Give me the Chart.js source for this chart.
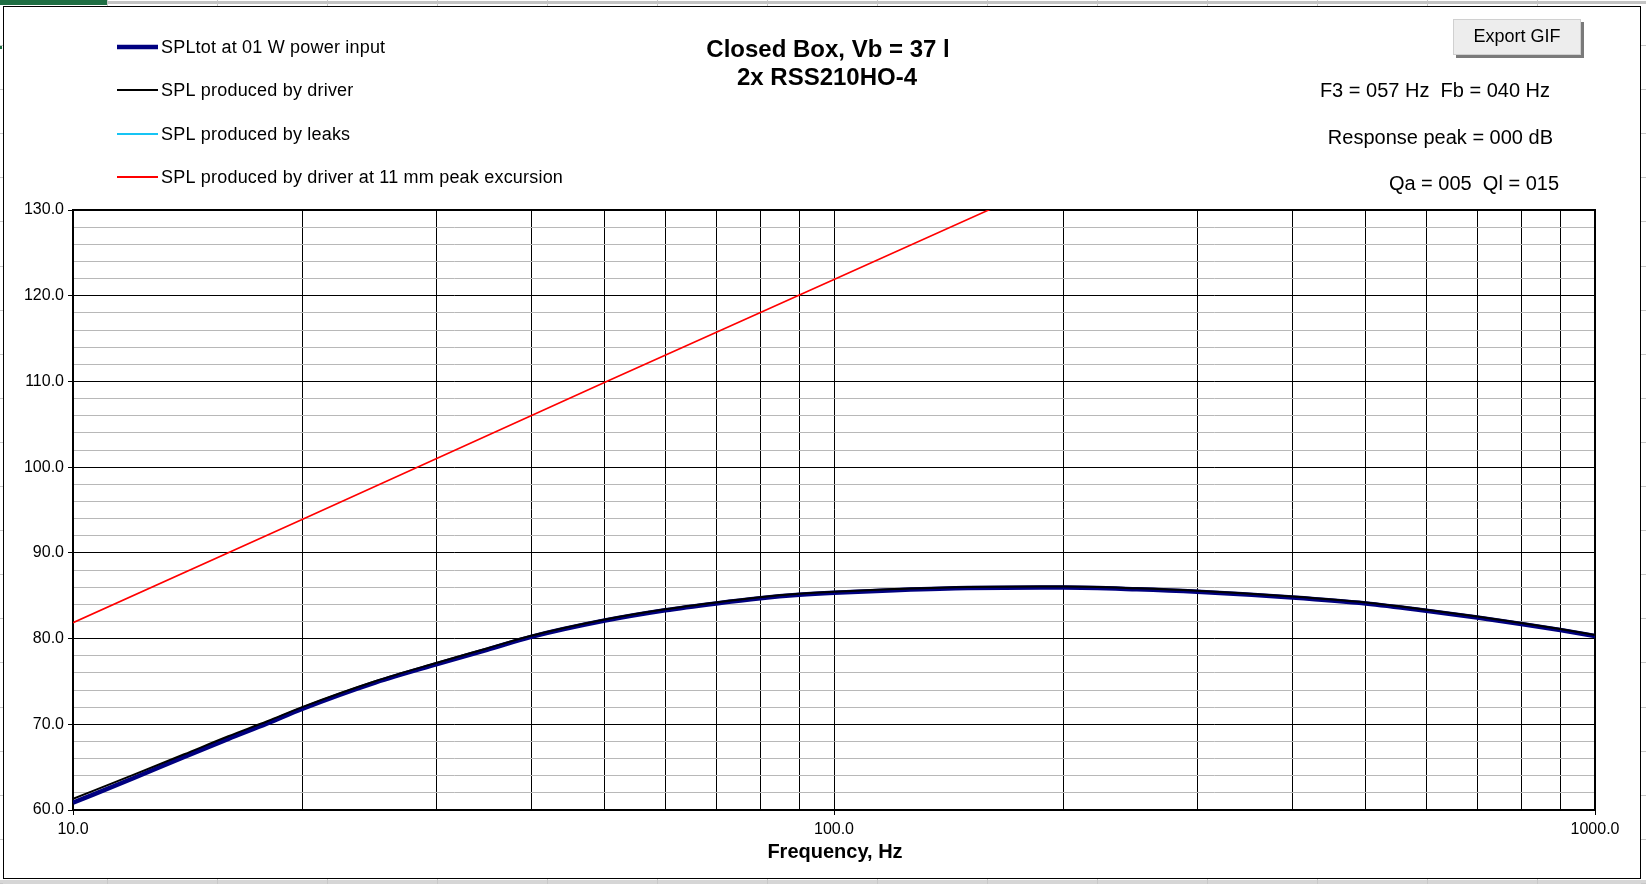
<!DOCTYPE html>
<html>
<head>
<meta charset="utf-8">
<title>Closed Box, Vb = 37 l</title>
<script src="https://cdn.jsdelivr.net/npm/chart.js@4.4.1/dist/chart.umd.min.js"></script>
<style>
  html, body { margin: 0; padding: 0; background: #fff; overflow: hidden; }
  #wrap { width: 1646px; height: 884px; }
</style>
</head>
<body>
<div id="wrap"><canvas id="splChart" width="1646" height="884"></canvas></div>
<script>
// frequency points of the response curves (Hz)
const frequencies = [10, 12, 14, 16, 18, 20, 25, 30, 35, 40, 50, 60, 70, 80, 90, 100, 120, 150, 200, 250, 300, 400, 500, 600, 700, 800, 900, 1000];

// SPL values (dB)
const splTotal = [60.85, 63.7, 66.2, 68.3, 70.1, 71.8, 74.9, 77.0, 78.7, 80.2, 82.1, 83.3, 84.1, 84.7, 85.1, 85.35, 85.65, 85.9, 85.95, 85.75, 85.47, 84.8, 84.1, 83.25, 82.45, 81.7, 81.0, 80.3];
const splDriver = [61.3, 64.1, 66.5, 68.6, 70.35, 72.0, 75.05, 77.15, 78.85, 80.32, 82.22, 83.42, 84.22, 84.82, 85.22, 85.47, 85.77, 86.02, 86.07, 85.87, 85.59, 84.92, 84.22, 83.37, 82.57, 81.82, 81.12, 80.42];
const splLeaks = []; // stays below 60 dB, nothing visible in the plot

// max SPL at 11 mm excursion (straight line, clipped at 130 dB)
const excursionFreqs = [10, 20, 50, 100, 200];
const splExcursion = [81.85, 93.9, 109.9, 121.9, 133.9];

const seriesLabels = [
  "SPLtot at 01 W power input",
  "SPL produced by driver",
  "SPL produced by leaks",
  "SPL produced by driver at 11 mm peak excursion",
];

// axis ticks
const freqTicks = [10, 20, 30, 40, 50, 60, 70, 80, 90, 100, 200, 300, 400, 500, 600, 700, 800, 900, 1000];
const freqLabelTicks = [10, 100, 1000];
const dbTicks = [60, 62, 64, 66, 68, 70, 72, 74, 76, 78, 80, 82, 84, 86, 88, 90, 92, 94, 96, 98, 100, 102, 104, 106, 108, 110, 112, 114, 116, 118, 120, 122, 124, 126, 128, 130];

const infoLines = ["F3 = 057 Hz  Fb = 040 Hz", "Response peak = 000 dB", "Qa = 005  Ql = 015"];

const FONT = '"Liberation Sans", Arial, sans-serif';

function toPoints(xs, ys) {
  return ys.map((y, i) => ({ x: xs[i], y: y }));
}

// spreadsheet behind the chart object, white chart box
const sheetPlugin = {
  id: "sheet",
  beforeDraw(chart) {
    const ctx = chart.ctx;
    const W = chart.width, H = chart.height;
    ctx.save();
    ctx.fillStyle = "#fff";
    ctx.fillRect(0, 0, W, H);
    // cell grid peeking out around the chart
    ctx.fillStyle = "#c4c4c4";
    ctx.fillRect(0, 1, W, 3);
    ctx.fillStyle = "#d6d6d6";
    ctx.fillRect(0, 880, W, 4);
    ctx.strokeStyle = "#c8c8c8";
    ctx.lineWidth = 1;
    for (let x = 107; x < W; x += 110) {
      ctx.beginPath();
      ctx.moveTo(x + 0.5, 0); ctx.lineTo(x + 0.5, 6);
      ctx.moveTo(x + 0.5, 879); ctx.lineTo(x + 0.5, H);
      ctx.stroke();
    }
    for (let y = 45; y < H; y += 44.1) {
      const yy = Math.round(y) + 0.5;
      ctx.beginPath();
      ctx.moveTo(0, yy); ctx.lineTo(3, yy);
      ctx.moveTo(1641, yy); ctx.lineTo(W, yy);
      ctx.stroke();
    }
    ctx.fillStyle = "#1f6e43";
    ctx.fillRect(0, 0, 107, 5);
    ctx.fillRect(0, 46, 2, 3);
    // chart box
    ctx.fillStyle = "#fff";
    ctx.fillRect(3, 6, 1638, 873);
    ctx.strokeStyle = "#000";
    ctx.strokeRect(3.5, 6.5, 1637, 872);
    ctx.restore();
  },
  beforeDatasetsDraw(chart) {
    const { ctx, chartArea: a } = chart;
    ctx.save();
    ctx.strokeStyle = "#000";
    ctx.lineWidth = 2;
    ctx.strokeRect(a.left, a.top, a.right - a.left, a.bottom - a.top);
    ctx.restore();
  },
  afterDraw(chart) {
    const { ctx } = chart;
    ctx.save();
    ctx.fillStyle = "#000";
    ctx.textBaseline = "middle";

    // title
    ctx.textAlign = "center";
    ctx.font = "bold 24px " + FONT;
    ctx.fillText("Closed Box, Vb = 37 l", 828, 50);
    ctx.fillText("2x RSS210HO-4", 827, 78);

    // x axis title
    ctx.font = "bold 20px " + FONT;
    ctx.fillText("Frequency, Hz", 835, 852);

    // info texts, right side
    ctx.font = "20px " + FONT;
    ctx.textAlign = "right";
    ctx.fillText(infoLines[0], 1550, 91);
    ctx.fillText(infoLines[1], 1553, 138);
    ctx.fillText(infoLines[2], 1559, 184);

    // legend
    const rows = [47, 90, 134, 177];
    ctx.textAlign = "left";
    ctx.font = "18px " + FONT;
    chart.data.datasets.forEach((ds, i) => {
      ctx.strokeStyle = ds.borderColor;
      ctx.lineWidth = i === 0 ? 4.5 : 2;
      ctx.beginPath();
      ctx.moveTo(117, rows[i]);
      ctx.lineTo(158, rows[i]);
      ctx.stroke();
      ctx.fillStyle = "#000";
      ctx.letterSpacing = "0.2px";
      ctx.fillText(ds.label, 161, rows[i] + 1);
      ctx.letterSpacing = "0px";
    });

    // Export GIF button
    ctx.fillStyle = "#7a7a7a";
    ctx.fillRect(1456, 22, 128, 36);
    ctx.fillStyle = "#ededed";
    ctx.fillRect(1453, 19, 128, 36);
    ctx.strokeStyle = "#d0d0d0";
    ctx.lineWidth = 1;
    ctx.strokeRect(1453.5, 19.5, 127, 35);
    ctx.fillStyle = "#000";
    ctx.textAlign = "center";
    ctx.font = "18px " + FONT;
    ctx.fillText("Export GIF", 1517, 37);
    ctx.restore();
  },
};

const isMajorDb = (v) => v % 10 === 0;
const isLabelFreq = (v) => freqLabelTicks.includes(v);

const ctx = document.getElementById("splChart").getContext("2d");
const splChart = new Chart(ctx, {
  type: "line",
  data: {
    datasets: [
      {
        label: seriesLabels[0],
        data: toPoints(frequencies, splTotal),
        borderColor: "#000080",
        borderWidth: 4.5,
        order: 4,
      },
      {
        label: seriesLabels[1],
        data: toPoints(frequencies, splDriver),
        borderColor: "#000000",
        borderWidth: 2,
        order: 2,
      },
      {
        label: seriesLabels[2],
        data: splLeaks,
        borderColor: "#16c4f4",
        borderWidth: 2,
        order: 3,
      },
      {
        label: seriesLabels[3],
        data: toPoints(excursionFreqs, splExcursion),
        borderColor: "#ff0000",
        borderWidth: 1.6,
        cubicInterpolationMode: "default",
        tension: 0,
        order: 1,
      },
    ],
  },
  options: {
    responsive: false,
    devicePixelRatio: 1,
    animation: false,
    layout: { padding: { left: 0, right: 51, top: 210, bottom: 0 } },
    elements: {
      point: { radius: 0 },
      line: { cubicInterpolationMode: "monotone", fill: false },
    },
    datasets: { line: { clip: 0 } },
    plugins: {
      legend: { display: false },
      tooltip: { enabled: false },
    },
    scales: {
      x: {
        type: "logarithmic",
        min: 10,
        max: 1000,
        afterBuildTicks: (scale) => {
          scale.ticks = freqTicks.map((v) => ({ value: v }));
        },
        afterFit: (scale) => {
          scale.height = 74;
        },
        border: { display: true, color: "#000", width: 2 },
        grid: {
          color: "#000",
          lineWidth: 1,
          drawTicks: true,
          tickLength: 5,
          tickColor: (c) => (isLabelFreq(c.tick.value) ? "#000" : "rgba(0,0,0,0)"),
        },
        ticks: {
          autoSkip: false,
          maxRotation: 0,
          padding: 5,
          color: "#000",
          font: { family: FONT, size: 16 },
          callback: (v) => (isLabelFreq(v) ? v.toFixed(1) : ""),
        },
      },
      y: {
        type: "linear",
        min: 60,
        max: 130,
        afterBuildTicks: (scale) => {
          scale.ticks = dbTicks.map((v) => ({ value: v }));
        },
        afterFit: (scale) => {
          scale.width = 73;
        },
        border: { display: true, color: "#000", width: 2 },
        grid: {
          color: (c) => (isMajorDb(c.tick.value) ? "#000" : "#b8b8b8"),
          lineWidth: 1,
          drawTicks: true,
          tickLength: 5,
          tickColor: (c) => (isMajorDb(c.tick.value) ? "#000" : "rgba(0,0,0,0)"),
        },
        ticks: {
          autoSkip: false,
          padding: 4,
          color: "#000",
          font: { family: FONT, size: 16 },
          callback: (v) => (isMajorDb(v) ? v.toFixed(1) : ""),
        },
      },
    },
  },
  plugins: [sheetPlugin],
});
</script>
</body>
</html>
